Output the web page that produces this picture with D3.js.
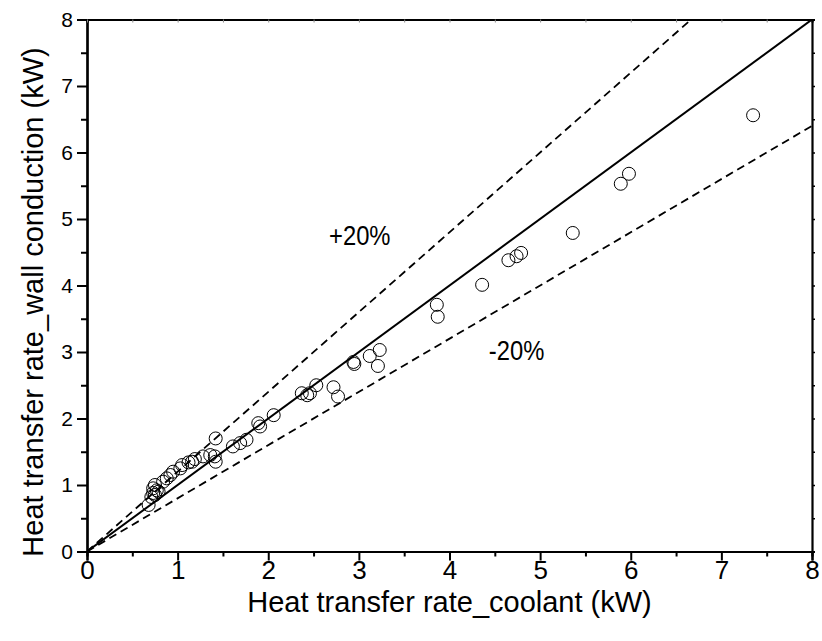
<!DOCTYPE html>
<html>
<head>
<meta charset="utf-8">
<script src="https://cdn.jsdelivr.net/npm/d3@7"></script>
<style>
  html, body { margin: 0; padding: 0; background: #fff; }
  svg { display: block; font-family: "Liberation Sans", Arial, sans-serif; }
</style>
</head>
<body>
<svg id="chart" width="822" height="641"></svg>
<script>
// Data
const coolant = [0.68, 0.71, 0.73, 0.73, 0.75, 0.75, 0.77, 0.79, 0.84, 0.88, 0.92, 0.95, 1.03, 1.05, 1.12, 1.16, 1.19, 1.28, 1.36, 1.41, 1.42, 1.42, 1.61, 1.69, 1.76, 1.89, 1.91, 2.06, 2.37, 2.43, 2.46, 2.53, 2.72, 2.77, 2.94, 2.95, 3.12, 3.21, 3.23, 3.86, 3.87, 4.36, 4.65, 4.74, 4.79, 5.36, 5.89, 5.98, 7.35];
const wall    = [0.70, 0.82, 0.95, 0.88, 1.00, 0.85, 0.92, 0.90, 1.05, 1.10, 1.15, 1.20, 1.25, 1.30, 1.34, 1.35, 1.39, 1.43, 1.45, 1.43, 1.35, 1.70, 1.58, 1.63, 1.68, 1.93, 1.88, 2.05, 2.38, 2.35, 2.38, 2.50, 2.47, 2.33, 2.85, 2.82, 2.94, 2.79, 3.03, 3.71, 3.53, 4.01, 4.38, 4.44, 4.49, 4.79, 5.53, 5.68, 6.56];
const majorTicks = [0, 1, 2, 3, 4, 5, 6, 7, 8];
const minorTicks = [0.5, 1.5, 2.5, 3.5, 4.5, 5.5, 6.5, 7.5];
const refFactors = [1.0, 1.2, 0.8];
const bandLabels = [{text: "+20%", x: 3.01, y: 4.61}, {text: "-20%", x: 4.74, y: 2.88}];
const xTitle = "Heat transfer rate_coolant (kW)";
const yTitle = "Heat transfer rate_wall conduction (kW)";

const svg = d3.select("#chart");
const L = 87, R = 812, T = 19.5, B = 551.5;
const x = d3.scaleLinear().domain([0, 8]).range([L, R]);
const y = d3.scaleLinear().domain([0, 8]).range([B, T]);

svg.append("defs").append("clipPath").attr("id", "plotclip")
  .append("rect").attr("x", L).attr("y", T).attr("width", R - L).attr("height", B - T);

// reference lines
const g = svg.append("g").attr("clip-path", "url(#plotclip)");
refFactors.forEach(f => {
  const xe = Math.min(8, 8 / f);
  g.append("line")
    .attr("x1", x(0)).attr("y1", y(0))
    .attr("x2", x(xe)).attr("y2", y(xe * f))
    .attr("stroke", "#000")
    .attr("stroke-width", f === 1 ? 2 : 1.8)
    .attr("stroke-dasharray", f === 1 ? null : "8,5");
});

// points
g.selectAll("circle.pt").data(coolant.map((c, i) => [c, wall[i]]))
  .enter().append("circle")
  .attr("class", "pt")
  .attr("cx", d => x(d[0])).attr("cy", d => y(d[1]))
  .attr("r", 6.5)
  .attr("fill", "none").attr("stroke", "#000").attr("stroke-width", 1);

// axes
const xAxis = svg.append("g").attr("transform", `translate(0,${B})`)
  .call(d3.axisBottom(x).tickValues(majorTicks).tickSize(9).tickPadding(4).tickFormat(d3.format("d")));
const xMinor = svg.append("g").attr("transform", `translate(0,${B})`)
  .call(d3.axisBottom(x).tickValues(minorTicks).tickSize(5).tickFormat(""));
const yAxis = svg.append("g").attr("transform", `translate(${L},0)`)
  .call(d3.axisLeft(y).tickValues(majorTicks).tickSize(10).tickPadding(4).tickFormat(d3.format("d")));
const yMinor = svg.append("g").attr("transform", `translate(${L},0)`)
  .call(d3.axisLeft(y).tickValues(minorTicks).tickSize(6).tickFormat(""));
const xTop = svg.append("g").attr("transform", `translate(0,${T})`)
  .call(d3.axisBottom(x).tickValues(majorTicks.concat(minorTicks)).tickSize(3).tickFormat(""));
const yRight = svg.append("g").attr("transform", `translate(${R},0)`)
  .call(d3.axisRight(y).tickValues(majorTicks.concat(minorTicks)).tickSize(3).tickFormat(""));

[xAxis, xMinor, yAxis, yMinor, xTop, yRight].forEach(a => {
  a.select(".domain").attr("stroke", "#000").attr("stroke-width", 2.2);
  a.selectAll(".tick line").attr("stroke", "#000").attr("stroke-width", 2);
});
xTop.selectAll(".tick line").attr("stroke-width", 1).attr("stroke", "#888");
yRight.selectAll(".tick line").attr("stroke-width", 1.5);

xAxis.selectAll(".tick text")
  .attr("font-size", 26).attr("fill", "#000")
  .attr("font-family", "'Liberation Sans', Arial, sans-serif")
  .attr("dy", null).attr("y", 27);
yAxis.selectAll(".tick text")
  .attr("font-size", 21).attr("fill", "#000")
  .attr("font-family", "'Liberation Sans', Arial, sans-serif");

// titles
svg.append("text")
  .attr("x", (L + R) / 2).attr("y", 612)
  .attr("text-anchor", "middle")
  .attr("font-size", 29)
  .attr("fill", "#000")
  .text(xTitle);

svg.append("text")
  .attr("transform", `translate(43,302) rotate(-90)`)
  .attr("text-anchor", "middle")
  .attr("font-size", 29)
  .attr("fill", "#000")
  .text(yTitle);

// band labels
bandLabels.forEach(b => {
  svg.append("text")
    .attr("transform", `translate(${x(b.x)},${y(b.y)}) scale(0.85,1)`)
    .attr("text-anchor", "middle")
    .attr("font-size", 28)
    .attr("fill", "#000")
    .text(b.text);
});
</script>
</body>
</html>
